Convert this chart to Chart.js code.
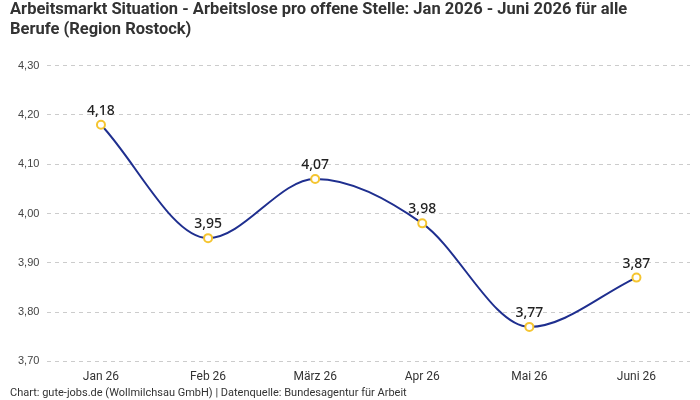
<!DOCTYPE html>
<html>
<head>
<meta charset="utf-8">
<script src="https://cdn.jsdelivr.net/npm/chart.js@4/dist/chart.umd.min.js"></script>
<style>
  html, body { margin: 0; padding: 0; background: #fff; }
  #wrap { width: 700px; height: 400px; }
</style>
</head>
<body>
<div id="wrap"><canvas id="chart" width="700" height="400"></canvas></div>
<script>
const months = ['Jan 26', 'Feb 26', 'März 26', 'Apr 26', 'Mai 26', 'Juni 26'];
const ratio = [4.18, 3.95, 4.07, 3.98, 3.77, 3.87];
const yTicks = [3.7, 3.8, 3.9, 4.0, 4.1, 4.2, 4.3];

const narrow = '"Liberation Sans Narrow", "Roboto", sans-serif';
const fmt = v => v.toFixed(2).replace('.', ',');

// labels above each point
const valueLabels = {
  id: 'valueLabels',
  afterDatasetsDraw(chart) {
    let ctx = chart.ctx;
    let meta = chart.getDatasetMeta(0);
    ctx.save();
    ctx.font = '500 14px "Noto Sans", sans-serif';
    ctx.fillStyle = '#222';
    ctx.textAlign = 'center';
    ctx.textBaseline = 'bottom';
    meta.data.forEach((pt, i) => {
      ctx.fillText(fmt(ratio[i]), pt.x, pt.y - 7);
    });
    ctx.restore();
  }
};

new Chart(document.getElementById('chart'), {
  type: 'line',
  data: {
    labels: months,
    datasets: [{
      data: ratio,
      borderColor: '#1f2f8f',
      borderWidth: 2,
      cubicInterpolationMode: 'monotone',
      pointRadius: 4,
      pointBorderWidth: 2,
      pointBackgroundColor: '#fff',
      pointBorderColor: '#f5c531',
      fill: false,
    }]
  },
  options: {
    responsive: false,
    animation: false,
    layout: { padding: { left: 10, right: 10, top: 0, bottom: 0 } },
    plugins: {
      legend: { display: false },
      tooltip: { enabled: false },
      title: {
        display: true,
        align: 'start',
        text: ['Arbeitsmarkt Situation - Arbeitslose pro offene Stelle: Jan 2026 - Juni 2026 für alle', 'Berufe (Region Rostock)'],
        color: '#333',
        font: { family: narrow, size: 16.5, weight: 'bold', lineHeight: 1.2 },
        padding: { top: 0, bottom: 26 },
      },
      subtitle: {
        display: true,
        position: 'bottom',
        align: 'start',
        text: 'Chart: gute-jobs.de (Wollmilchsau GmbH) | Datenquelle: Bundesagentur für Arbeit',
        color: '#333',
        font: { family: narrow, size: 11 },
        padding: { top: 3, bottom: 0 },
      },
    },
    scales: {
      x: {
        offset: true,
        grid: { display: false },
        border: { display: false },
        ticks: { color: '#333', font: { family: narrow, size: 12 }, padding: 0 },
      },
      y: {
        min: 3.7,
        max: 4.3,
        afterBuildTicks(axis) { axis.ticks = yTicks.map(v => ({ value: v })); },
        border: { display: false, dash: [4, 4] },
        grid: { color: '#cccccc', drawTicks: false, tickBorderDash: [4, 4] },
        ticks: { color: '#444', font: { family: '"Liberation Sans", Arial, sans-serif', size: 11 }, padding: 8, callback: v => fmt(v) },
      }
    }
  },
  plugins: [valueLabels]
});
</script>
</body>
</html>
